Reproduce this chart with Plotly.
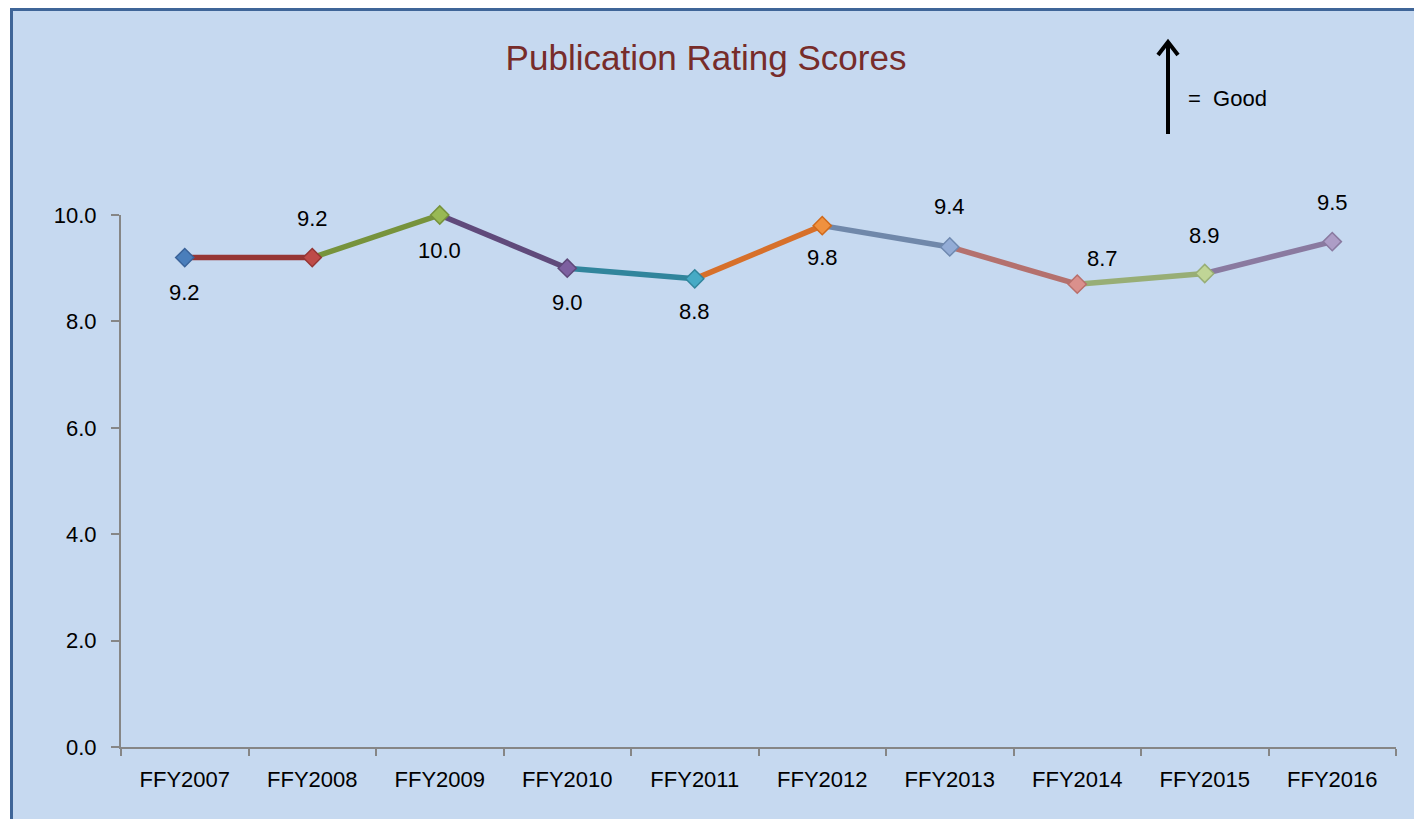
import plotly.graph_objects as go

# ---- data ----
categories = ["FFY2007", "FFY2008", "FFY2009", "FFY2010", "FFY2011",
              "FFY2012", "FFY2013", "FFY2014", "FFY2015", "FFY2016"]
scores = [9.2, 9.2, 10.0, 9.0, 8.8, 9.8, 9.4, 8.7, 8.9, 9.5]
y_ticks = [0, 2, 4, 6, 8, 10]
title_text = "Publication Rating Scores"
legend_text = "=  Good"

# ---- styles ----
marker_fill = ["#4a7ebb", "#be4b48", "#98b954", "#7d60a0", "#46aac5",
               "#f0913f", "#93acd6", "#da908c", "#c0d596", "#ad9dc6"]
marker_edge = ["#3a639a", "#963634", "#76923c", "#5f497a", "#31859c",
               "#d06a1c", "#6f89b0", "#b86f6b", "#98ae76", "#8a7aa0"]
segment_color = ["#963634", "#77933c", "#604a7b", "#31859c", "#d7702a",
                 "#7088aa", "#b4716e", "#98ae76", "#8a7aa0"]
# label offsets in pixels (dx, dy) relative to point
label_offsets = [(0, -35), (0, 39), (0, -35), (0, -34), (0, -33),
                 (0, -32), (0, 40), (25, 26), (0, 38), (0, 39)]

PAGE_OFF = 8  # default body margin of the html page
W_FIG, H_FIG = 1414, 811
ML, MR, MT, MB = 113, 26, 207, 72
PW = W_FIG - ML - MR
PH = H_FIG - MT - MB


def fx(page_px):
    return (page_px - PAGE_OFF - ML) / PW


def fy(page_py):
    return (H_FIG - MB - (page_py - PAGE_OFF)) / PH


FONT = "Liberation Sans, Arial, sans-serif"

fig = go.Figure()

# colored segments
for i in range(len(scores) - 1):
    fig.add_trace(go.Scatter(
        x=[categories[i], categories[i + 1]],
        y=[scores[i], scores[i + 1]],
        mode="lines",
        line=dict(color=segment_color[i], width=5.5),
        hoverinfo="skip",
        showlegend=False,
        cliponaxis=False,
    ))

# markers
fig.add_trace(go.Scatter(
    x=categories, y=scores, mode="markers",
    marker=dict(symbol="diamond", size=14, color=marker_fill,
                line=dict(color=marker_edge, width=1.5)),
    showlegend=False,
    cliponaxis=False,
))

annotations = []
for c, v, (dx, dy) in zip(categories, scores, label_offsets):
    annotations.append(dict(
        x=c, y=v, xref="x", yref="y", text=f"{v:.1f}", showarrow=False,
        xshift=dx, yshift=dy,
        font=dict(family=FONT, size=22, color="#000000"),
    ))

# "= Good" text
annotations.append(dict(
    x=fx(1186), y=fy(98), xref="paper", yref="paper", text=legend_text,
    showarrow=False, xanchor="left", yanchor="middle",
    font=dict(family=FONT, size=22, color="#000000"),
))

shapes = [
    # chart area background with border
    dict(type="rect", xref="paper", yref="paper",
         x0=fx(11.5), x1=fx(1440), y0=fy(840), y1=fy(PAGE_OFF + 1.5),
         fillcolor="#c6d9f0", line=dict(color="#3f6598", width=3),
         layer="below"),
    # arrow stem
    dict(type="line", xref="paper", yref="paper",
         x0=fx(1168), x1=fx(1168), y0=fy(134), y1=fy(43),
         line=dict(color="#000000", width=4)),
    # arrow head
    dict(type="path", xref="paper", yref="paper",
         path=f"M {fx(1158)},{fy(55)} L {fx(1168)},{fy(42)} L {fx(1178)},{fy(55)}",
         line=dict(color="#000000", width=4)),
]

fig.update_layout(
    width=W_FIG, height=H_FIG,
    margin=dict(l=ML, r=MR, t=MT, b=MB, pad=0),
    paper_bgcolor="#ffffff",
    plot_bgcolor="rgba(0,0,0,0)",
    title=dict(text=title_text, x=(706 - PAGE_OFF) / W_FIG, xref="container",
               xanchor="center", y=1 - (58 - PAGE_OFF) / H_FIG, yanchor="middle",
               font=dict(family=FONT, size=35, color="#772c2a")),
    annotations=annotations,
    shapes=shapes,
    xaxis=dict(
        type="category", categoryorder="array", categoryarray=categories,
        range=[-0.5, len(categories) - 0.5],
        showline=True, linecolor="#868686", linewidth=2,
        ticks="outside", tickson="boundaries", ticklen=7, tickwidth=2,
        tickcolor="#868686", showgrid=False, zeroline=False,
        tickfont=dict(family=FONT, size=22, color="#000000"),
        ticklabelstandoff=12,
    ),
    yaxis=dict(
        range=[0, 10], tickvals=y_ticks, tickformat=".1f",
        showline=True, linecolor="#868686", linewidth=2,
        ticks="outside", ticklen=8, tickwidth=2, tickcolor="#868686",
        showgrid=False, zeroline=False,
        tickfont=dict(family=FONT, size=22, color="#000000"),
        ticklabelstandoff=10,
    ),
)

fig.write_html("out.html")
